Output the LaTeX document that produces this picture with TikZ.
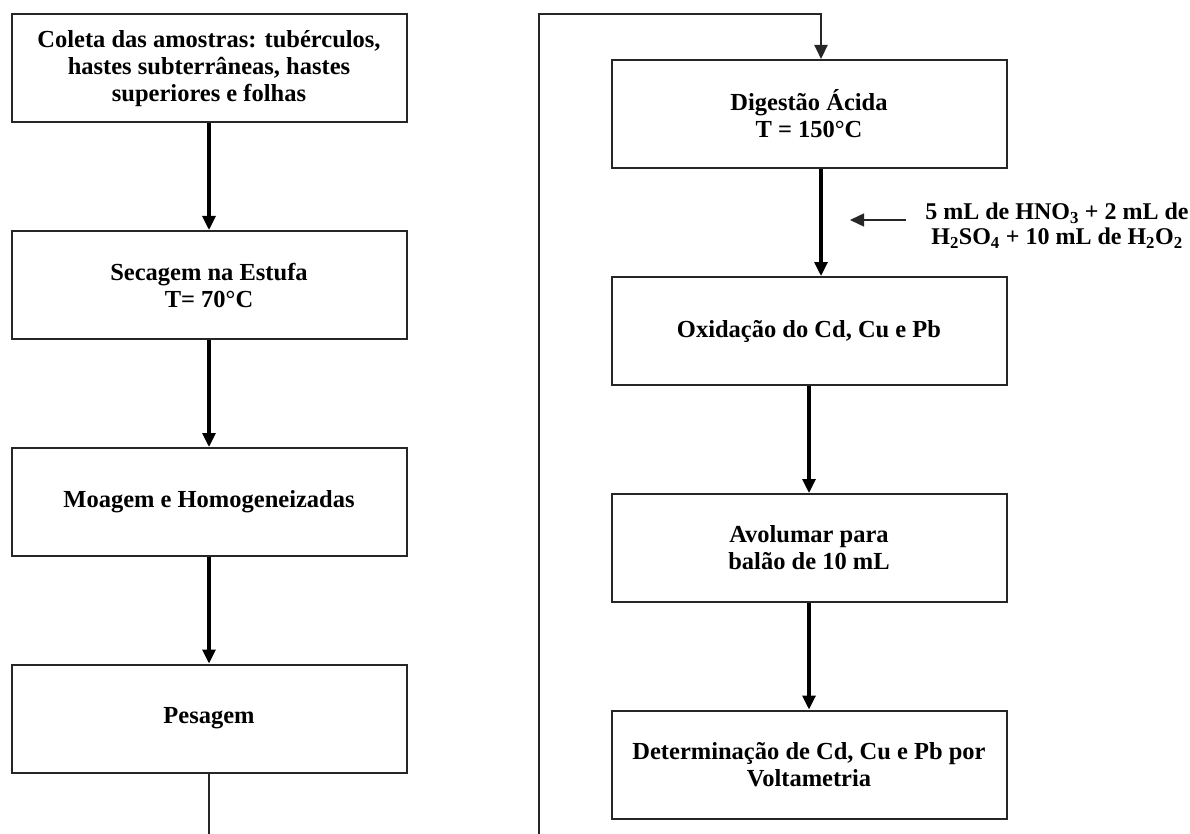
\documentclass[tikz,border=0pt]{standalone}
\usepackage{fontspec}
\setmainfont{Liberation Serif}
\usetikzlibrary{arrows.meta, positioning}

\begin{document}
\begin{tikzpicture}[x=1pt, y=-1pt,
  stepbox/.style={draw=black!85, line width=2pt, minimum width=395pt, minimum height=108pt,
    inner sep=0pt, align=center, font=\bfseries\fontsize{24.5}{27}\selectfont},
  flow/.style={-{Triangle[length=14pt, width=13pt]}, line width=3.2pt},
  thinflow/.style={-{Triangle[length=14pt, width=13pt]}, line width=2pt, draw=black!85}]
  \useasboundingbox (0,0) rectangle (1190,834);
  % left column
  \node[stepbox] (col) at (209, 68.5) {Coleta das amostras: tubérculos,\\hastes subterrâneas, hastes\\superiores e folhas};
  \node[stepbox] (sec) at (209, 285) {Secagem na Estufa\\T= 70°C};
  \node[stepbox] (moa) at (209, 502) {Moagem e Homogeneizadas};
  \node[stepbox] (pes) at (209, 718.5) {Pesagem};
  \draw[flow] (col) -- (sec);
  \draw[flow] (sec) -- (moa);
  \draw[flow] (moa) -- (pes);
  % right column
  \node[stepbox] (dig) at (809, 114) {Digestão Ácida\\T = 150°C};
  \node[stepbox] (oxi) at (809, 331) {Oxidação do Cd, Cu e Pb};
  \node[stepbox] (avo) at (809, 548) {Avolumar para\\balão de 10 mL};
  \node[stepbox] (det) at (809, 764.5) {Determinação de Cd, Cu e Pb por\\Voltametria};
  \draw[flow] ([xshift=12pt]dig.south) -- ([xshift=12pt]oxi.north);
  \draw[flow] (oxi) -- (avo);
  \draw[flow] (avo) -- (det);
  % reagents
  \node[font=\bfseries\fontsize{24}{25}\selectfont, align=center] (rea) at (1057, 226)
    {5 mL de HNO\textsubscript{3} + 2 mL de\\H\textsubscript{2}SO\textsubscript{4} + 10 mL de H\textsubscript{2}O\textsubscript{2}};
  \coordinate (reaend) at (850, 220);
  \draw[thinflow, line width=1.5pt] ([xshift=-16pt]rea.west |- reaend) -- (reaend);
  % link between columns
  \coordinate (lbot) at (209, 834);
  \coordinate (rbot) at (539, 834);
  \coordinate (rtop) at (539, 14);
  \draw[draw=black!85, line width=2pt] (pes.south) -- (lbot);
  \draw[thinflow] (rbot) -- (rtop) -| ([xshift=12pt]dig.north);
\end{tikzpicture}
\end{document}
